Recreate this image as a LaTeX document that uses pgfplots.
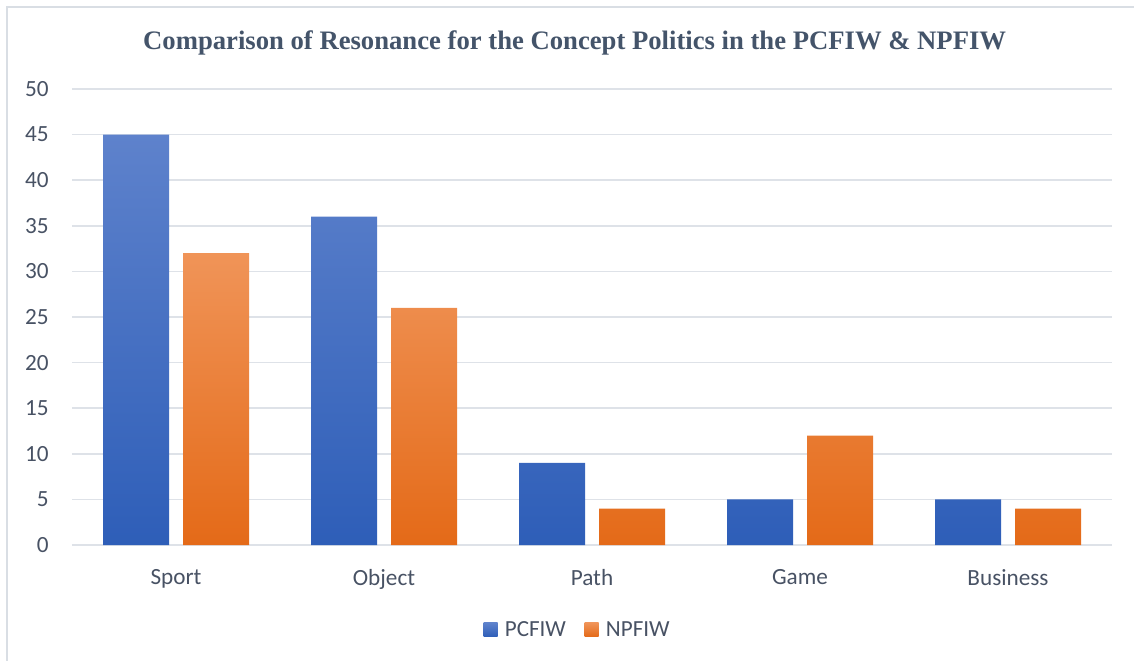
\documentclass[border=0pt]{standalone}
\usepackage{pgfplots}
\pgfplotsset{compat=1.18}
\usepackage{fontspec}
\setmainfont{Carlito}
\newfontfamily\titlefont{Liberation Serif}
\definecolor{titlecol}{RGB}{68,84,106}
\definecolor{labelcol}{RGB}{72,82,100}
\definecolor{gridcol}{RGB}{222,226,232}
\definecolor{frame}{RGB}{217,222,228}
\definecolor{blueTop}{RGB}{94,130,204}
\definecolor{blueBot}{RGB}{46,94,184}
\definecolor{orTop}{RGB}{240,148,88}
\definecolor{orBot}{RGB}{228,106,24}

\pgfplotstableread{
x pcfiw npfiw
0 45 32
1 36 26
2 9 4
3 5 12
4 5 4
}\resonance

\begin{document}
\begin{tikzpicture}
\path[use as bounding box] (0pt,0pt) rectangle (850.5pt,495pt);
\draw[frame, line width=1.2pt] (5.25pt,-10pt) -- (5.25pt,489.75pt) -- (860pt,489.75pt);
\node[font=\titlefont\bfseries\fontsize{20}{24}\selectfont, text=titlecol]
  at (431pt,462.75pt) {Comparison of Resonance for the Concept Politics in the PCFIW \& NPFIW};
\begin{axis}[
  at={(54pt,86.25pt)}, anchor=south west,
  scale only axis, width=780pt, height=342pt,
  xmin=-0.5, xmax=4.5, ymin=0, ymax=50,
  ytick={0,5,...,50},
  xtick=data,
  xticklabels={Sport,Object,Path,Game,Business},
  axis line style={draw=none},
  major tick length=0pt,
  ymajorgrids, grid style={gridcol, line width=1.1pt},
  tick label style={font=\fontsize{17.4}{20}\selectfont, text=labelcol},
  /pgf/number format/assume math mode=true,
  yticklabel style={xshift=-14pt},
  xticklabel style={yshift=-15pt},
  ybar=10.5pt, bar width=49.5pt,
  legend columns=2,
  legend style={at={(0.4865,-0.186)}, anchor=center, draw=none, fill=none,
    font=\fontsize{17.3}{20}\selectfont, text=labelcol,
    /tikz/every even column/.append style={column sep=12pt}},
  legend image code/.code={%
    \path[#1, draw=none] (0pt,-5.25pt) rectangle (10.5pt,5.25pt);
    \path (14pt,0pt);},
]
\addplot[draw=none, top color=blueTop, bottom color=blueBot] table[x=x, y=pcfiw] {\resonance};
\addplot[draw=none, top color=orTop, bottom color=orBot] table[x=x, y=npfiw] {\resonance};
\legend{PCFIW, NPFIW}
\end{axis}
\end{tikzpicture}
\end{document}
